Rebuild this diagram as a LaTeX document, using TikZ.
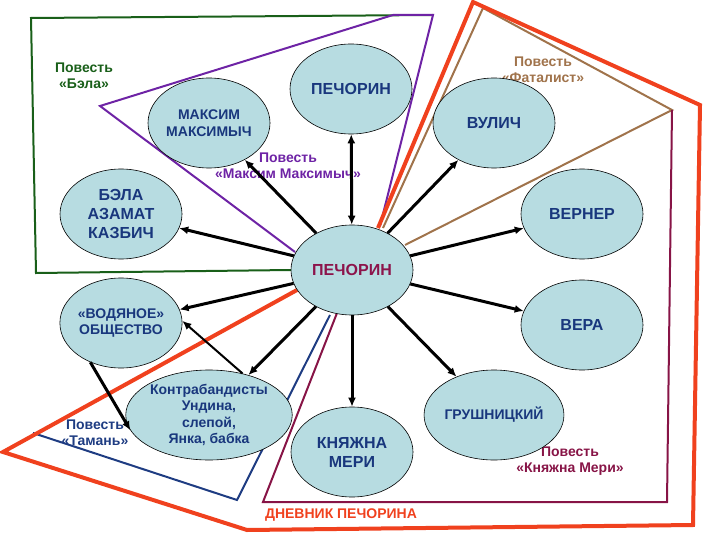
\documentclass[tikz,border=0pt]{standalone}
\usepackage{fontspec}
\setmainfont{Liberation Sans}
\usepackage{tikz}
\usepackage{xcolor}
\usetikzlibrary{shapes.geometric}
\usetikzlibrary{arrows.meta}

\definecolor{herofill}{RGB}{183,220,225}
\definecolor{herotext}{RGB}{25,55,125}
\definecolor{pecred}{RGB}{140,20,75}
\definecolor{belagreen}{RGB}{25,95,25}
\definecolor{maxpurple}{RGB}{110,35,165}
\definecolor{fatbrown}{RGB}{160,115,75}
\definecolor{diaryred}{RGB}{240,65,30}
\definecolor{tamblue}{RGB}{30,60,130}
\definecolor{merimaroon}{RGB}{135,20,70}

\begin{document}
\begin{tikzpicture}[x=1pt,y=-1pt,
  hero/.style={ellipse,draw=black,line width=0.6pt,fill=herofill,minimum width=122pt,minimum height=90pt,inner sep=0pt,align=center,text=herotext,font=\bfseries\fontsize{16}{19}\selectfont},
  herosmall/.style={hero,font=\bfseries\fontsize{14}{16.5}\selectfont},
  tale/.style={align=center,font=\bfseries\fontsize{14}{16}\selectfont},
  link/.style={line width=3pt,-{Latex[length=9pt,width=8pt]}},
  border/.style={line width=2pt,line join=miter}]
\useasboundingbox (0,0) rectangle (720,540);

\draw[border,belagreen] (291,270) -- (36,273) -- (31,18) -- (433,15);
\draw[border,maxpurple] (295,252) -- (100,106) -- (393,15) -- (433,15) -- (380,226);
\draw[border,fatbrown] (383,228) -- (483,8) -- (672,110) -- (405,245);
\draw[border,merimaroon] (337,313) -- (263,502) -- (667,502) -- (672,110);
\draw[border,tamblue] (33,433) -- (237,500) -- (330,315);
\draw[border,diaryred,line width=4pt] (378,228) -- (473,2) -- (700,105) -- (693,525) -- (247,530) -- (3,452) -- (297,290);

\node[tale,text=belagreen] (tbela) at (84,76) {Повесть\\«Бэла»};
\node[tale,text=maxpurple] (tmax) at (288,166) {Повесть\\«Максим Максимыч»};
\node[tale,text=fatbrown] (tfat) at (543,70) {Повесть\\«Фаталист»};
\node[tale,text=tamblue] (ttam) at (95,433) {Повесть\\«Тамань»};
\node[tale,text=merimaroon] (tmary) at (570,461) {Повесть\\«Княжна Мери»};
\node[tale,text=diaryred] (tdiary) at (341,515) {ДНЕВНИК ПЕЧОРИНА};

\node[hero] (pt) at (351,89) {ПЕЧОРИН};
\node[herosmall] (mm) at (209,123) {МАКСИМ\\МАКСИМЫЧ};
\node[hero] (bela) at (121,214) {БЭЛА\\АЗАМАТ\\КАЗБИЧ};
\node[hero] (vulich) at (494,123) {ВУЛИЧ};
\node[hero] (werner) at (582,214) {ВЕРНЕР};
\node[hero,text=pecred] (pc) at (352,270) {ПЕЧОРИН};
\node[herosmall] (water) at (121,323) {«ВОДЯНОЕ»\\ОБЩЕСТВО};
\node[hero] (vera) at (582,325) {ВЕРА};
\node[herosmall] (smug) at (209,415) {Контрабандисты\\Ундина,\\слепой,\\Янка, бабка};
\node[herosmall] (grush) at (494,415) {ГРУШНИЦКИЙ};
\node[hero] (mary) at (352,452) {КНЯЖНА\\МЕРИ};

\draw[link,{Latex[length=9pt,width=8pt]}-{Latex[length=9pt,width=8pt]}] (pc) -- (pt);
\draw[link] (pc) -- (mm);
\draw[link] (pc) -- (bela);
\draw[link] (pc) -- (vulich);
\draw[link] (pc) -- (werner);
\draw[link] (pc) -- (water);
\draw[link] (pc) -- (vera);
\draw[link] (pc) -- (smug);
\draw[link] (pc) -- (grush);
\draw[link] (pc) -- (mary);
\draw[link] (water.232) -- (smug.191);
\draw[link,line width=2pt] (smug.51) -- (water.2);

\end{tikzpicture}
\end{document}
